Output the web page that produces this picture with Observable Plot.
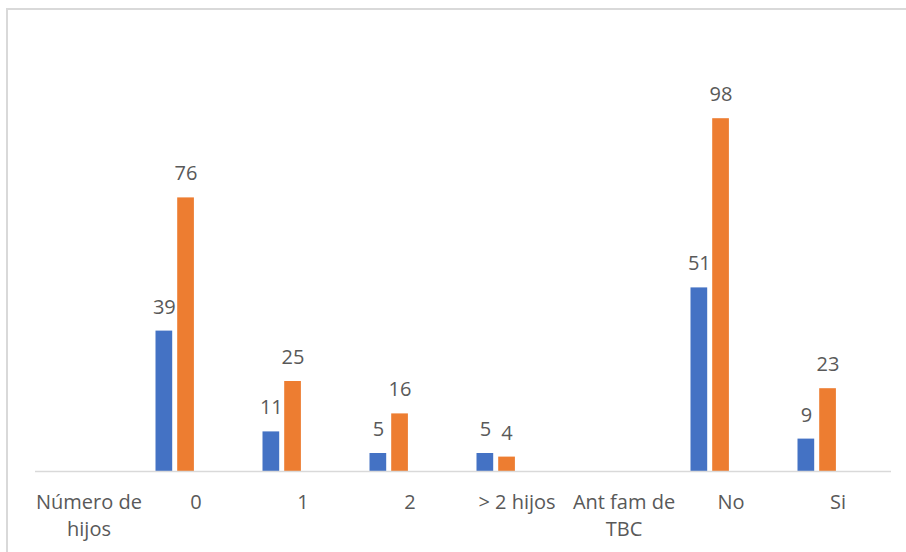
<!DOCTYPE html>
<html>
<head>
<meta charset="utf-8">
<script src="https://cdn.jsdelivr.net/npm/d3@7"></script>
<script src="https://cdn.jsdelivr.net/npm/@observablehq/plot@0.6"></script>
<style>
  html, body { margin: 0; padding: 0; background: #fff; overflow: hidden; }
  #wrap { position: relative; width: 906px; height: 552px; }
  #border { position: absolute; left: 6px; top: 8px; width: 1000px; height: 1000px;
            border-top: 2px solid #d9d9d9; border-left: 2px solid #d9d9d9; box-sizing: border-box; }
  #chart { position: absolute; left: 0; top: 0; }
</style>
</head>
<body>
<div id="wrap"><div id="border"></div><div id="chart"></div></div>
<script>
const categories = ["Número de\nhijos", "0", "1", "2", "> 2 hijos", "Ant fam de\nTBC", "No", "Si"];
const serie1 = [null, 39, 11, 5, 5, null, 51, 9];
const serie2 = [null, 76, 25, 16, 4, null, 98, 23];

const rows1 = categories.map((c, i) => ({cat: c, v: serie1[i]})).filter(d => d.v != null);
const rows2 = categories.map((c, i) => ({cat: c, v: serie2[i]})).filter(d => d.v != null);

const W = 906, H = 552, mL = 35, mR = 15;
const band = (W - mL - mR) / categories.length;
const barW = 16.7;
const off1 = 13.5, off2 = 35.2;

const chart = Plot.plot({
  width: W,
  height: H,
  marginLeft: mL,
  marginRight: mR,
  marginTop: 111,
  marginBottom: 81,
  style: {fontFamily: "'Open Sans', sans-serif", color: "#595959", background: "transparent"},
  x: {domain: categories, padding: 0, label: null},
  y: {domain: [0, 100], axis: null},
  marks: [
    Plot.barY(rows1, {x: "cat", y: "v", fill: "#4472C4", insetLeft: off1, insetRight: band - off1 - barW}),
    Plot.barY(rows2, {x: "cat", y: "v", fill: "#ED7D31", insetLeft: off2, insetRight: band - off2 - barW}),
    Plot.ruleY([0], {stroke: "#d9d9d9", strokeWidth: 1.5}),
    Plot.text(rows1, {x: "cat", y: "v", text: d => String(d.v), dx: off1 + barW / 2 - band / 2, dy: -24, fontSize: 20, fill: "#595959"}),
    Plot.text(rows2, {x: "cat", y: "v", text: d => String(d.v), dx: off2 + barW / 2 - band / 2, dy: -24, fontSize: 20, fill: "#595959"}),
    Plot.axisX({tickSize: 0, tickPadding: 18, fontSize: 20, lineHeight: 1.35, fill: "#595959", label: null})
  ]
});
document.getElementById("chart").appendChild(chart);
</script>
</body>
</html>
